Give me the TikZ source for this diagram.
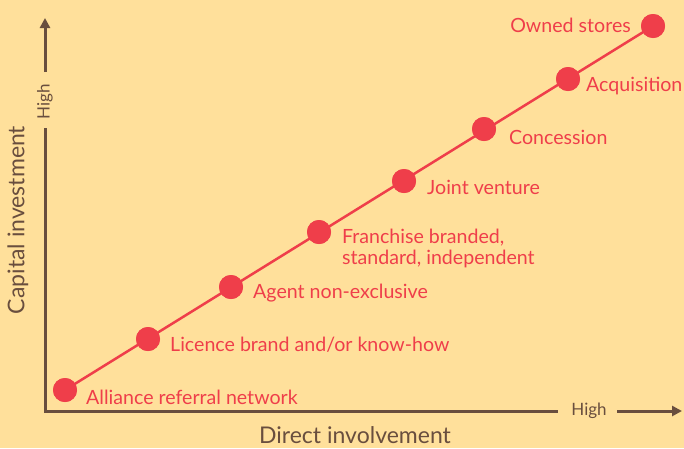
\documentclass[tikz,border=0pt]{standalone}
\usepackage{fontspec}
\setmainfont{Lato}
\usetikzlibrary{arrows.meta}
\definecolor{bg}{RGB}{255,224,155}
\definecolor{axisbrown}{RGB}{105,78,62}
\definecolor{dotred}{RGB}{239,62,74}
\tikzset{
  stage/.style={circle,fill=dotred,inner sep=0pt,minimum size=24pt},
  stagelabel/.style={text=dotred,font=\fontsize{19.6}{21}\selectfont,inner sep=0pt,anchor=west,align=left},
  axisline/.style={draw=axisbrown,line width=3pt},
  axistip/.style={axisline,-{Triangle[length=10pt,width=10pt]}},
  highlabel/.style={text=axisbrown,font=\fontsize{17}{19}\selectfont,inner sep=0pt},
  axistitle/.style={text=axisbrown,font=\fontsize{23}{26}\selectfont,inner sep=0pt},
  link/.style={draw=dotred,line width=2.5pt}
}
\begin{document}
\begin{tikzpicture}[x=1pt,y=-1pt]
\fill[bg] (0,0) rectangle (684,448);
\useasboundingbox (0,0) rectangle (684,448);
% axes
\coordinate (origin) at (45,411);
\coordinate (ytop) at (45,18);
\coordinate (xend) at (682,411);
\node[highlabel,rotate=90] (yhigh) at (45,102) {High};
\node[highlabel] (xhigh) at (589,411) {High};
\draw[axisline] (45,128) -- (origin) -- (558,411);
\draw[axistip] (45,72) -- (ytop);
\draw[axistip] (617,411) -- (xend);
\node[axistitle,rotate=90] (ytitle) at (18,220) {Capital investment};
\node[axistitle] (xtitle) at (355,435) {Direct involvement};
% stages and the line through them
\node[stage] (s1) at (65,390) {};
\node[stage] (s2) at (148,339) {};
\node[stage] (s3) at (231,287) {};
\node[stage] (s4) at (319,232) {};
\node[stage] (s5) at (404,181) {};
\node[stage] (s6) at (484,129) {};
\node[stage] (s7) at (568,79) {};
\node[stage] (s8) at (653,26) {};
\draw[link] (s1.center) -- (s8.center);
\foreach \n in {1,...,8}{\fill[dotred] (s\n) circle (12pt);}
% labels
\node[stagelabel] (l1) at (86,397) {Alliance referral network};
\node[stagelabel] (l2) at (170,345) {Licence brand and/or know-how};
\node[stagelabel] (l3) at (253,293) {Agent non-exclusive};
\node[stagelabel] (l4) at (342,248) {Franchise branded,\\standard, independent};
\node[stagelabel] (l5) at (427,187) {Joint venture};
\node[stagelabel] (l6) at (509,137) {Concession};
\node[stagelabel] (l7) at (586,86) {Acquisition};
\node[stagelabel,anchor=east] (l8) at (631,25) {Owned stores};
\end{tikzpicture}
\end{document}
